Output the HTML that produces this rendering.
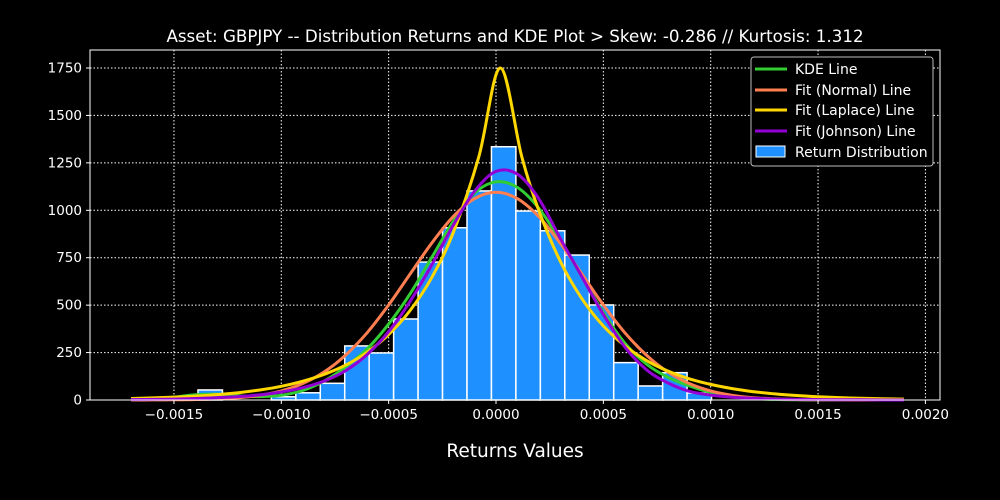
<!DOCTYPE html>
<html><head><meta charset="utf-8"><style>
html,body{margin:0;padding:0;background:#000;}
svg{display:block;font-family:"DejaVu Sans","Liberation Sans",sans-serif;}
</style></head><body>
<svg id="chart" width="1000" height="500" viewBox="0 0 1000 500">
<rect width="1000" height="500" fill="#000"/>
<text x="515" y="42" fill="#fff" font-size="16.7" text-anchor="middle">Asset: GBPJPY -- Distribution Returns and KDE Plot &gt; Skew: -0.286 // Kurtosis: 1.312</text>
<g id="grid"></g>
<g id="bars"></g>
<g id="lines"></g>
<rect x="90" y="50" width="850" height="350" fill="none" stroke="#fff" stroke-width="1"/>
<g id="ticks"></g>
<text x="515" y="457" fill="#fff" font-size="18.5" text-anchor="middle">Returns Values</text>
<g id="legend">
<rect x="751" y="57" width="182" height="109" rx="3" fill="#000" stroke="#bbb" stroke-width="1"/>
<line x1="755" y1="69" x2="787" y2="69" stroke="#32cd32" stroke-width="3"/>
<text x="795" y="74" fill="#fff" font-size="14">KDE Line</text>
<line x1="755" y1="90" x2="787" y2="90" stroke="#ff7f50" stroke-width="3"/>
<text x="795" y="95" fill="#fff" font-size="14">Fit (Normal) Line</text>
<line x1="755" y1="110" x2="787" y2="110" stroke="#ffd700" stroke-width="3"/>
<text x="795" y="115" fill="#fff" font-size="14">Fit (Laplace) Line</text>
<line x1="755" y1="131" x2="787" y2="131" stroke="#9400d3" stroke-width="3"/>
<text x="795" y="136" fill="#fff" font-size="14">Fit (Johnson) Line</text>
<rect x="756" y="146" width="29" height="11" fill="#1e90ff" stroke="#fff" stroke-width="1"/>
<text x="795" y="157" fill="#fff" font-size="14">Return Distribution</text>
</g>
</svg>
<script>
const binStart = -0.001388;
const binWidth = 0.0001139;
const binCounts = [53,0,0,17,38,88,285,248,427,727,908,1102,1335,996,892,764,501,197,74,144,37];
const curveX = [-0.0017,-0.0016,-0.0015,-0.0014,-0.0013,-0.0012,-0.0011,-0.0010,-0.0009,-0.0008,-0.0007,-0.0006,-0.0005,-0.0004,-0.0003,-0.0002,-0.0001,0,0.0001,0.0002,0.0003,0.0004,0.0005,0.0006,0.0007,0.0008,0.0009,0.0010,0.0011,0.0012,0.0013,0.0014,0.0015,0.0016,0.0017,0.0018,0.0019];
const kdeY = [1,5,15,28,30,22,18,25,50,100,175,270,400,560,750,940,1090,1150,1120,1010,840,650,460,300,190,120,75,40,18,8,3,1,0,0,0,0,0];
const normalY = [0.13,0.4,1,2.4,5.6,12.2,25,48,87,148,237,355,501,664,826,966,1061,1095,1061,966,826,664,501,355,237,148,87,48,25,12.2,5.6,2.4,1,0.4,0.13,0,0];
const laplaceX = [-0.0017,-0.0016,-0.0015,-0.0014,-0.0013,-0.0012,-0.0011,-0.0010,-0.0009,-0.0008,-0.0007,-0.0006,-0.0005,-0.0004,-0.0003,-0.0002,-0.00008,0.00002,0.00012,0.0002,0.0003,0.0004,0.0005,0.0006,0.0007,0.0008,0.0009,0.0010,0.0011,0.0012,0.0013,0.0014,0.0015,0.0016,0.0017,0.0018,0.0019];
const laplaceY = [8.1,11.1,15.1,20.7,28.3,38.7,52.9,72,99,135,184,252,345,472,644,880,1282,1750,1282,997,730,534,390,286,209,153,112,82,60,44,32,23.5,17,12.5,9.2,6.7,4.9];
const johnsonY = [2,3,5,8,12,18,27,42,65,100,155,240,360,520,710,920,1100,1205,1190,1060,850,650,450,280,160,90,46,26,15,9,5,3,2,1,1,0,0];
const xTicks = [-0.0015,-0.0010,-0.0005,0.0000,0.0005,0.0010,0.0015,0.0020];
const xTickLabels = ["\u22120.0015","\u22120.0010","\u22120.0005","0.0000","0.0005","0.0010","0.0015","0.0020"];
const yTicks = [0,250,500,750,1000,1250,1500,1750];

const NS = "http://www.w3.org/2000/svg";
function sx(v){ return 496 + v * 214700; }
function sy(v){ return 400 - v * 0.18971; }
function mk(tag, attrs, parent){ const e=document.createElementNS(NS,tag); for(const k in attrs) e.setAttribute(k,attrs[k]); parent.appendChild(e); return e; }

const grid=document.getElementById('grid'), ticks=document.getElementById('ticks');
xTicks.forEach((t,i)=>{
  const x=sx(t);
  const g=mk('line',{x1:x,x2:x,y1:50,y2:400,stroke:'#fff','stroke-width':1,'stroke-dasharray':'1.5,2'},grid);
  
  
  const tk=mk('line',{x1:x,x2:x,y1:400,y2:404,stroke:'#fff'},ticks);
  
  
  const lb=mk('text',{x:x,y:419,fill:'#fff','font-size':13.5,'text-anchor':'middle'},ticks);
  lb.textContent=xTickLabels[i];
  
  
});
yTicks.forEach(t=>{
  const y=sy(t);
  const g=mk('line',{x1:90,x2:940,y1:y,y2:y,stroke:'#fff','stroke-width':1,'stroke-dasharray':'1.5,2'},grid);
  
  
  const tk=mk('line',{x1:86,x2:90,y1:y,y2:y,stroke:'#fff'},ticks);
  
  
  const lb=mk('text',{x:82,y:y+4.5,fill:'#fff','font-size':13.5,'text-anchor':'end'},ticks);
  lb.textContent=String(t);
  
  
});
const bars=document.getElementById('bars');
binCounts.forEach((c,i)=>{
  if(c<=0) return;
  const x0=sx(binStart+i*binWidth), x1=sx(binStart+(i+1)*binWidth);
  const r=mk('rect',{x:x0,y:sy(c),width:x1-x0,height:sy(0)-sy(c),fill:'#1e90ff',stroke:'#fff','stroke-width':1.5},bars);
  
  
});
const lines=document.getElementById('lines');
function drawLine(xs,ys,color,name){
  const P=xs.map((x,i)=>[sx(x),sy(ys[i])]);
  let d='M'+P[0][0].toFixed(1)+','+P[0][1].toFixed(1);
  for(let i=0;i<P.length-1;i++){
    const p0=P[i-1]||P[i], p1=P[i], p2=P[i+1], p3=P[i+2]||P[i+1];
    const c1=[p1[0]+(p2[0]-p0[0])/6, p1[1]+(p2[1]-p0[1])/6];
    const c2=[p2[0]-(p3[0]-p1[0])/6, p2[1]-(p3[1]-p1[1])/6];
    d+=' C'+c1[0].toFixed(1)+','+c1[1].toFixed(1)+' '+c2[0].toFixed(1)+','+c2[1].toFixed(1)+' '+p2[0].toFixed(1)+','+p2[1].toFixed(1);
  }
  const p=mk('path',{d:d,fill:'none',stroke:color,'stroke-width':3,'stroke-linejoin':'round'},lines);
  
  
}
drawLine(curveX,kdeY,'#32cd32','kde-line');
drawLine(curveX,normalY,'#ff7f50','normal-fit-line');
drawLine(laplaceX,laplaceY,'#ffd700','laplace-fit-line');
drawLine(curveX,johnsonY,'#9400d3','johnson-fit-line');
</script>
</body></html>
